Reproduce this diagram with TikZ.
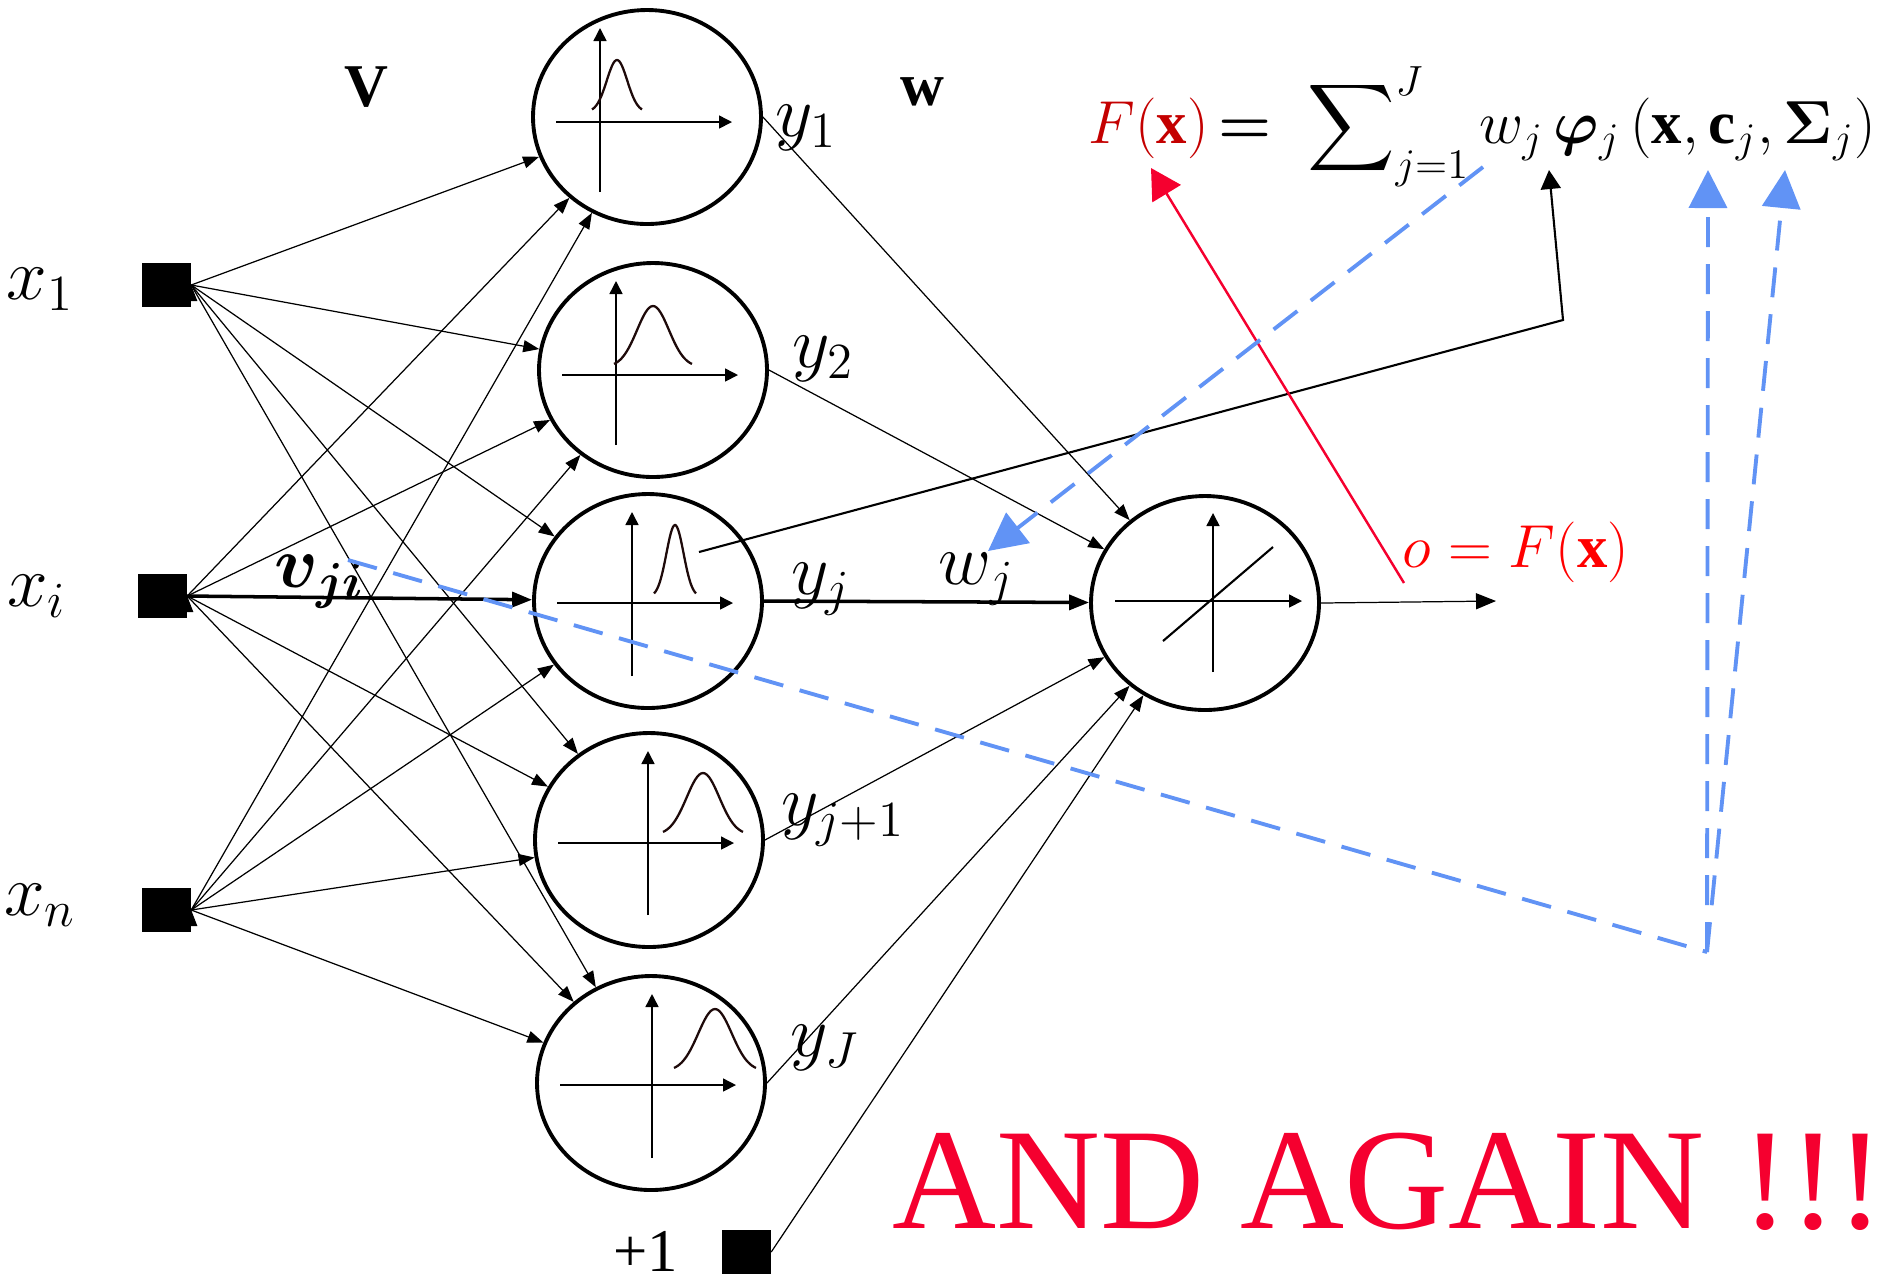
\documentclass[tikz,border=0pt]{standalone}
\usepackage{amsmath, amssymb}
\usepackage{fontspec}
\setmainfont{Liberation Serif}
\usepackage{bm}
\usepackage{tikz}
\usetikzlibrary{arrows.meta, positioning, calc, shapes.geometric}
\usepackage{xcolor}
\definecolor{alarmred}{HTML}{F5002F}
\definecolor{outred}{HTML}{FF0000}
\definecolor{sumred}{HTML}{C40000}
\definecolor{hintblue}{HTML}{6193F5}
\definecolor{inkcurve}{HTML}{1E0A0A}

% axes and bell curve inside a hidden unit:
% node, v-axis x, h-axis y, bump centre, half width, bump base, bump height
\newcommand{\gaussicon}[7]{%
  \begin{scope}[shift={(#1.center)}]
    \draw[axisline] (-91,#3) -- (85,#3);
    \draw[axisline] (#2,75) -- (#2,-89);
    \draw[bump] plot[domain=-1:1, samples=41, smooth] ({#4+#5*\x}, {#6-#7*exp(-3*(\x)^2)});
  \end{scope}}

\begin{document}
\begin{tikzpicture}[x=0.1mm, y=-0.1mm,
    rbfunit/.style={draw, ellipse, line width=1.1pt, minimum width=22.8mm, minimum height=21.4mm, inner sep=0pt},
    inbox/.style={fill=black, minimum width=4.9mm, minimum height=4.4mm, inner sep=0pt},
    link/.style={line width=0.35pt, -{Triangle[length=1.6mm, width=1.2mm]}},
    strong/.style={line width=1pt, -{Triangle[length=2mm, width=1.5mm]}},
    axisline/.style={line width=0.45pt, -{Triangle[length=1.3mm, width=1.3mm]}},
    bump/.style={inkcurve, line width=0.65pt},
    hint/.style={hintblue, line width=1.1pt, dash pattern=on 3mm off 1.7mm},
    bighint/.style={hint, -{Triangle[length=3.8mm, width=3.8mm]}},
    lbl/.style={font=\huge, inner sep=0pt},
    slbl/.style={font=\LARGE, inner sep=0pt}]
  \useasboundingbox (0,0) rectangle (1884,1285);

  % input layer
  \node[inbox] (x1) at (166,285) {};
  \node[inbox] (xi) at (162,596) {};
  \node[inbox] (xn) at (166,910) {};
  \node[inbox] (bias) at (746,1252) {};
  \node[lbl] (lx1) at (40,289) {$x_1$};
  \node[lbl] (lxi) at (37,596) {$x_i$};
  \node[lbl] (lxn) at (40,905) {$x_n$};
  \node[slbl] (lbias) at (646,1251) {+1};

  % hidden layer and output unit
  \node[rbfunit] (h1) at (647,117) {};
  \node[rbfunit] (h2) at (653,370) {};
  \node[rbfunit] (hj) at (648,601) {};
  \node[rbfunit] (hk) at (649,840) {};
  \node[rbfunit] (hJ) at (651,1083) {};
  \node[rbfunit] (out) at (1205,603) {};

  \gaussicon{h1}{-47}{5}{-30}{25}{-5}{52}
  \gaussicon{h2}{-37}{5}{0}{39}{-3}{61}
  \gaussicon{hj}{-16}{2}{27}{21}{-4}{72}
  \gaussicon{hk}{-1}{3}{54}{40}{-5}{62}
  \gaussicon{hJ}{1}{2}{64}{41}{-12}{62}
  \begin{scope}[shift={(out.center)}]
    \draw[axisline] (-90,-2) -- (97,-2);
    \draw[axisline] (8,69) -- (8,-90);
    \draw[line width=0.6pt] (-42,38) -- (68,-56);
  \end{scope}

  \node[lbl] (ly1) at (806,128) {$y_1$};
  \node[lbl] (ly2) at (823,359) {$y_2$};
  \node[lbl] (lyj) at (821,589) {$y_j$};
  \node[lbl] (lyk) at (843,820) {$y_{j+1}$};
  \node[lbl] (lyJ) at (825,1048) {$y_J$};
  \node[slbl] (lV) at (366,87) {\textbf{V}};
  \node[slbl] (lw) at (922,92) {$\mathbf{w}$};
  \node[lbl] (lvji) at (320,582) {$\bm{v}_{\bm{ji}}$};
  \node[lbl] (lwj) at (977,579) {$w_j$};
  \node[slbl, text=outred] (lofx) at (1516,552) {$o = F(\mathbf{x})$};

  % input -> hidden
  \draw[link] (x1.east) edge (h1) edge (h2) edge (hj) edge (hk) edge (hJ);
  \draw[link] (xi.east) edge (h1) edge (h2) edge (hk) edge (hJ);
  \draw[strong] (xi.east) -- (hj);
  \draw[link] (xn.east) edge (h1) edge (h2) edge (hj) edge (hk) edge (hJ);

  % hidden -> output
  \draw[link] (h1.east) -- (out);
  \draw[link] (h2.east) -- (out);
  \draw[strong] (hj.east) -- (out);
  \draw[link] (hk.east) -- (out);
  \draw[link] (hJ.east) -- (out);
  \draw[link] (bias.east) -- (out);
  \coordinate (oend) at (1496,601);
  \draw[line width=0.35pt, -{Triangle[length=2mm, width=1.6mm]}] (out.east) -- (oend);

  % formula
  \node[anchor=base west, inner sep=0pt, font=\LARGE] (rbfsum) at (1088,143)
    {{\color{sumred}$F(\mathbf{x})$}\hspace{1mm}$\bm{=}$\hspace{3.6mm}$\displaystyle\sum\nolimits_{j=1}^{J} w_{j}\,\bm{\varphi}_{j}\,(\mathbf{x},\mathbf{c}_{j},\bm{\Sigma}_{j})$};

  \coordinate (tipF) at (1151,168);
  \coordinate (tipphi) at (1549,170);
  \coordinate (tipc) at (1708,170);
  \coordinate (tipS) at (1785,170);
  \coordinate (tailw) at (1483,167);
  \coordinate (tipw) at (988,551);
  \coordinate (tailv) at (348,560);
  \coordinate (knee) at (1707,952);
  \coordinate (phiroot) at (699,552);
  \coordinate (phibend) at (1563,320);
  \coordinate (redroot) at (1404,583);

  \draw[line width=0.6pt, -{Triangle[length=1.9mm, width=2mm]}] (phiroot) -- (phibend) -- (tipphi);
  \draw[alarmred, line width=0.7pt, -{Triangle[length=3mm, width=3.3mm]}] (redroot) -- (tipF);
  \draw[bighint] (tailw) -- (tipw);
  \draw[hint] (tailv) -- (knee);
  \draw[bighint] (knee) -- (tipc);
  \draw[bighint] (knee) -- (tipS);

  \node[anchor=base west, inner sep=0pt, text=alarmred, font=\fontsize{41}{47}\selectfont] (again) at (892,1228) {AND AGAIN !!!};
\end{tikzpicture}
\end{document}
